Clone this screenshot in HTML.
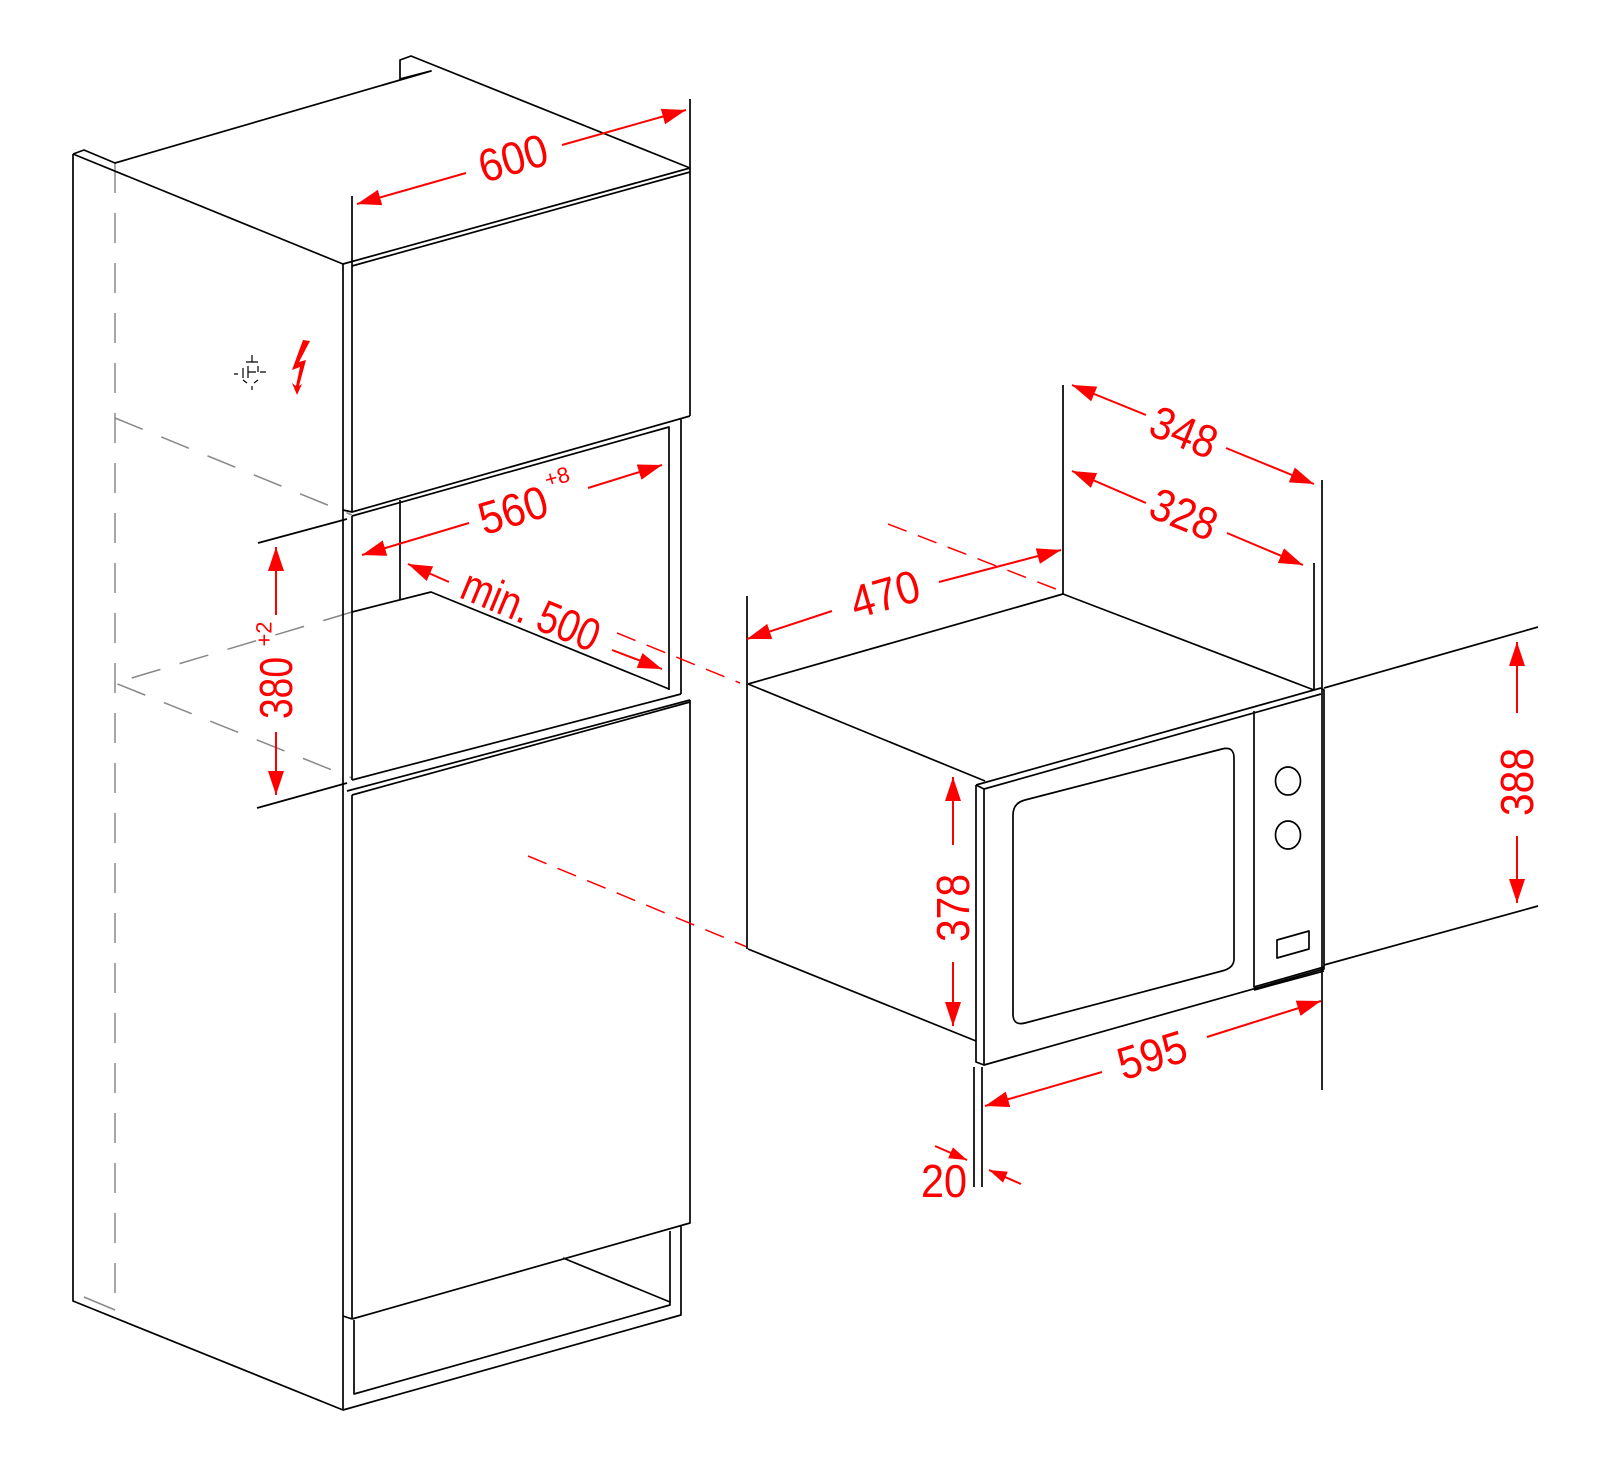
<!DOCTYPE html>
<html><head><meta charset="utf-8"><style>
html,body{margin:0;padding:0;background:#fff;}
svg{display:block;}
text{font-family:"Liberation Sans",sans-serif;fill:#f00;}
</style></head><body>
<svg width="1598" height="1468" viewBox="0 0 1598 1468" xmlns="http://www.w3.org/2000/svg">
<defs>
<marker id="ah" markerUnits="userSpaceOnUse" markerWidth="26" markerHeight="18" refX="24" refY="8" orient="auto-start-reverse">
<path d="M0,0 L24,8 L0,16 z" fill="#f00"/>
</marker>
<marker id="as" markerUnits="userSpaceOnUse" markerWidth="20" markerHeight="14" refX="18" refY="6" orient="auto">
<path d="M0,0 L18,6 L0,12 z" fill="#f00"/>
</marker>
</defs>

<g stroke="#888" stroke-width="1.5" fill="none" stroke-dasharray="30 20">
<path d="M115,163 L115,1310"/>
<path d="M115,418 L352,515"/>
<path d="M352,612 L115,683 L352,778"/>
</g>
<path d="M84,1297 L115,1310" stroke="#888" stroke-width="1.5" fill="none"/>

<g stroke="#000" stroke-width="1.7" fill="none" stroke-linejoin="round">
<path d="M73,154 L73,1301 L343,1410 L681,1315 L681,1226"/>
<path d="M73,154 L84,150 L115,163 L431,71 L400,79 L400,60 L411,56 L690,168"/>
<path d="M73,154 L343,264"/>
<path d="M343,264 L343,1410"/>
<path d="M352,196 L352,512"/>
<path d="M352,516 L352,780"/>
<path d="M343,264 L690,168"/>
<path d="M352,266 L690,172"/>
<path d="M690,99 L690,416"/>
<path d="M343,510 L352,512 L690,416"/>
<path d="M352,516 L669,427 L669,690"/>
<path d="M681,418 L681,694"/>
<path d="M400,500 L400,600"/>
<path d="M352,612 L431,592 L669,689"/>
<path d="M352,780 L681,694"/>
<path d="M347,791 L690,700"/>
<path d="M352,795 L690,702"/>
<path d="M258,543 L347,519"/>
<path d="M257,808 L347,783"/>
<path d="M352,795 L352,1319"/>
<path d="M690,700 L690,1223 L352,1319"/>
<path d="M343,1316 L352,1319"/>
<path d="M354,1320 L354,1394 L670,1305 L670,1231"/>
<path d="M563,1258 L670,1302"/>
</g>

<g stroke="#000" stroke-width="1.2" fill="none">
<path d="M252,355 L252,362 M246,362 L258,362"/>
<path d="M243,368 L243,378 M243,380 L247,383 M258,380 L254,383 M258,366 L258,372"/>
<path d="M248,366 L248,378 M248,372 L256,372"/>
<path d="M260,372 L266,372 M234,374 L238,374 M252,386 L252,390"/>
</g>
<path d="M303,340 L292,370 L300,367 L296,386 L292,383 L297,395 L302,384 L299,386 L306,360 L299,362 L310,341 Z" fill="#f00"/>

<g stroke="#f00" stroke-width="1.5" fill="none" stroke-dasharray="20 12">
<path d="M617,633 L740,683"/>
<path d="M528,856 L747,947"/>
<path d="M888,524 L1061,591"/>
</g>

<g stroke="#000" stroke-width="1.7" fill="none" stroke-linejoin="round">
<path d="M747,596 L747,949"/>
<path d="M748,684 L1063,594 L1314,690"/>
<path d="M1063,385 L1063,594"/>
<path d="M748,684 L985,781"/>
<path d="M748,949 L976,1041"/>
<path d="M976,785 L1321,688"/>
<path d="M984,789 L1321,694"/>
<path d="M976,785 L984,789"/>
<path d="M976,785 L976,1062 L984,1065"/>
<path d="M984,789 L984,1065 L1324,969 L1324,690 L1321,688"/>
<path d="M1254,711 L1254,987 L1324,967"/>
<path d="M1254,990 L1324,971"/>
<path d="M1013,815 Q1013,803 1025,800 L1222,749 Q1234,746 1234,758 L1234,959 Q1234,968 1222,971 L1025,1023 Q1013,1026 1013,1014 Z"/>
<ellipse cx="1288" cy="781" rx="12.5" ry="14"/>
<ellipse cx="1288" cy="835" rx="12.5" ry="14"/>
<path d="M1277,940 L1309,931 L1309,949 L1277,958 Z"/>
<path d="M1322,480 L1322,1090"/>
<path d="M1314,563 L1314,690"/>
<path d="M1324,688 L1538,627"/>
<path d="M1324,965 L1538,906"/>
<path d="M974,1067 L974,1187"/>
<path d="M982,1067 L982,1187"/>
</g>

<g stroke="#f00" stroke-width="2" fill="none">
<path d="M466,173 L357,204" marker-end="url(#ah)"/>
<path d="M562,145 L686,110" marker-end="url(#ah)"/>
<path d="M469,523 L362,555" marker-end="url(#ah)"/>
<path d="M588,488 L662,465" marker-end="url(#ah)"/>
<path d="M449,582 L408,564" marker-end="url(#ah)"/>
<path d="M612,650 L662,669" marker-end="url(#ah)"/>
<path d="M276,615 L276,547" marker-end="url(#ah)"/>
<path d="M276,732 L276,795" marker-end="url(#ah)"/>
<path d="M832,611 L747,639" marker-end="url(#ah)"/>
<path d="M939,582 L1061,550" marker-end="url(#ah)"/>
<path d="M1146,415 L1072,385" marker-end="url(#ah)"/>
<path d="M1226,448 L1314,484" marker-end="url(#ah)"/>
<path d="M1146,503 L1072,471" marker-end="url(#ah)"/>
<path d="M1227,533 L1303,565" marker-end="url(#ah)"/>
<path d="M1517,713 L1517,642" marker-end="url(#ah)"/>
<path d="M1517,836 L1517,903" marker-end="url(#ah)"/>
<path d="M953,845 L953,777" marker-end="url(#ah)"/>
<path d="M953,962 L953,1026" marker-end="url(#ah)"/>
<path d="M1102,1072 L985,1106" marker-end="url(#ah)"/>
<path d="M1207,1037 L1321,1001" marker-end="url(#ah)"/>
<path d="M935,1146 L967,1160" marker-end="url(#as)"/>
<path d="M1021,1184 L989,1170" marker-end="url(#as)"/>
</g>

<g font-size="46" text-anchor="middle" dominant-baseline="central">
<text x="513" y="158" transform="rotate(-16 513 158)" textLength="70" lengthAdjust="spacingAndGlyphs">600</text>
<text x="513" y="510" transform="rotate(-16.7 513 510)" textLength="70" lengthAdjust="spacingAndGlyphs">560</text>
<text x="531" y="610" transform="rotate(22.5 531 610)" textLength="145" lengthAdjust="spacingAndGlyphs">min. 500</text>
<text x="276" y="688" transform="rotate(-90 276 688)" textLength="62" lengthAdjust="spacingAndGlyphs">380</text>
<text x="885" y="594" transform="rotate(-16 885 594)" textLength="70" lengthAdjust="spacingAndGlyphs">470</text>
<text x="1184" y="432" transform="rotate(22 1184 432)" textLength="68" lengthAdjust="spacingAndGlyphs">348</text>
<text x="1184" y="514" transform="rotate(22 1184 514)" textLength="68" lengthAdjust="spacingAndGlyphs">328</text>
<text x="1517" y="782" transform="rotate(-90 1517 782)" textLength="68" lengthAdjust="spacingAndGlyphs">388</text>
<text x="953" y="908" transform="rotate(-90 953 908)" textLength="68" lengthAdjust="spacingAndGlyphs">378</text>
<text x="1152" y="1055" transform="rotate(-17 1152 1055)" textLength="70" lengthAdjust="spacingAndGlyphs">595</text>
<text x="944" y="1181" textLength="46" lengthAdjust="spacingAndGlyphs">20</text>
</g>
<g font-size="22" text-anchor="middle" dominant-baseline="central">
<text x="557" y="477" transform="rotate(-16 557 477)">+8</text>
<text x="264" y="634" transform="rotate(-90 264 634)">+2</text>
</g>
</svg>
</body></html>
